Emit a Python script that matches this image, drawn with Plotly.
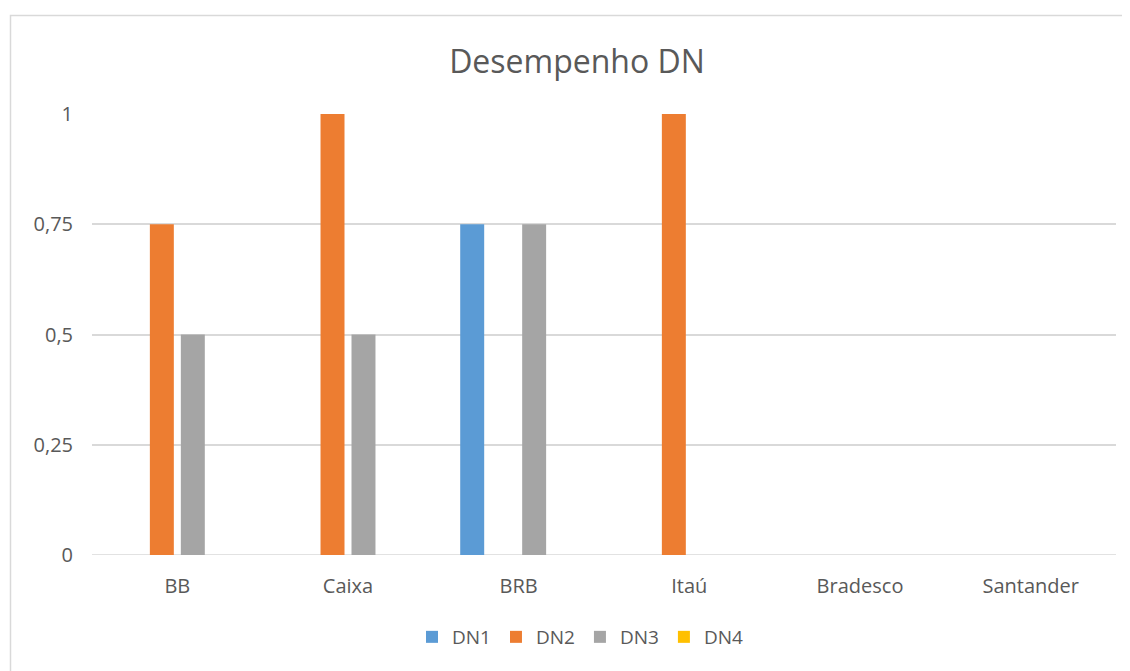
import plotly.graph_objects as go

categories = ["BB", "Caixa", "BRB", "Itaú", "Bradesco", "Santander"]
series_names = ["DN1", "DN2", "DN3", "DN4"]
dn1 = [0, 0, 0.75, 0, 0, 0]
dn2 = [0.75, 1, 0, 1, 0, 0]
dn3 = [0.5, 0.5, 0.75, 0, 0, 0]
dn4 = [0, 0, 0, 0, 0, 0]
tick_vals = [0, 0.25, 0.5, 0.75, 1]
tick_text = ["0", "0,25", "0,5", "0,75", "1"]

colors = ["#5B9BD5", "#ED7D31", "#A5A5A5", "#FFC000"]
font_family = "Open Sans, Liberation Sans, sans-serif"
text_color = "#595959"

fig = go.Figure()
for name, vals, col in zip(series_names, [dn1, dn2, dn3, dn4], colors):
    fig.add_trace(go.Bar(x=categories, y=vals, name=name, marker_color=col,
                         marker_line_width=0))

OFF = 8  # page body offset
W, H = 1130 - OFF, 671 - OFF
# desired screen coordinates of plot area
SL, SR, ST, SB = 92, 1116, 114, 555
L, T = SL - OFF, ST - OFF
R = W - (SR - OFF)
B = H - (SB - OFF)
pw, ph = SR - SL, SB - ST

def px_x(x):
    return (x - SL) / pw

def px_y(y):
    return (SB - y) / ph

fig.update_layout(
    width=W, height=H,
    margin=dict(l=L, r=R, t=T, b=B),
    paper_bgcolor="white", plot_bgcolor="white",
    barmode="group", bargap=0.274, bargroupgap=0.226,
    title=dict(text="Desempenho DN", x=(577 - OFF) / W, xanchor="center", xref="container",
               y=1 - (62 - OFF) / H, yanchor="middle",
               font=dict(family=font_family, size=32, color=text_color)),
    font=dict(family=font_family, size=20, color=text_color),
    showlegend=True,
    legend=dict(orientation="h", x=px_x(580), xanchor="center", y=px_y(637), yanchor="middle",
                font=dict(size=19, color=text_color), itemwidth=30, traceorder="normal"),
    xaxis=dict(showgrid=False, showline=False, ticks="", ticklabelstandoff=17,
               tickfont=dict(size=20, color=text_color)),
    yaxis=dict(range=[0, 1], tickvals=tick_vals, ticktext=tick_text, showgrid=True,
               gridcolor="#D9D9D9", gridwidth=1.5, zeroline=False, showline=False, ticks="",
               tickfont=dict(size=20, color=text_color), ticklabelstandoff=18),
    shapes=[dict(type="rect", xref="paper", yref="paper",
                 x0=px_x(10.5), x1=1.2, y0=-0.4, y1=px_y(15.5),
                 line=dict(color="#D9D9D9", width=1.5), layer="below"),
            dict(type="line", xref="paper", yref="y", x0=0, x1=1, y0=0, y1=0,
                 line=dict(color="#D9D9D9", width=1.5), layer="below")],
)

fig.write_html("out.html")
